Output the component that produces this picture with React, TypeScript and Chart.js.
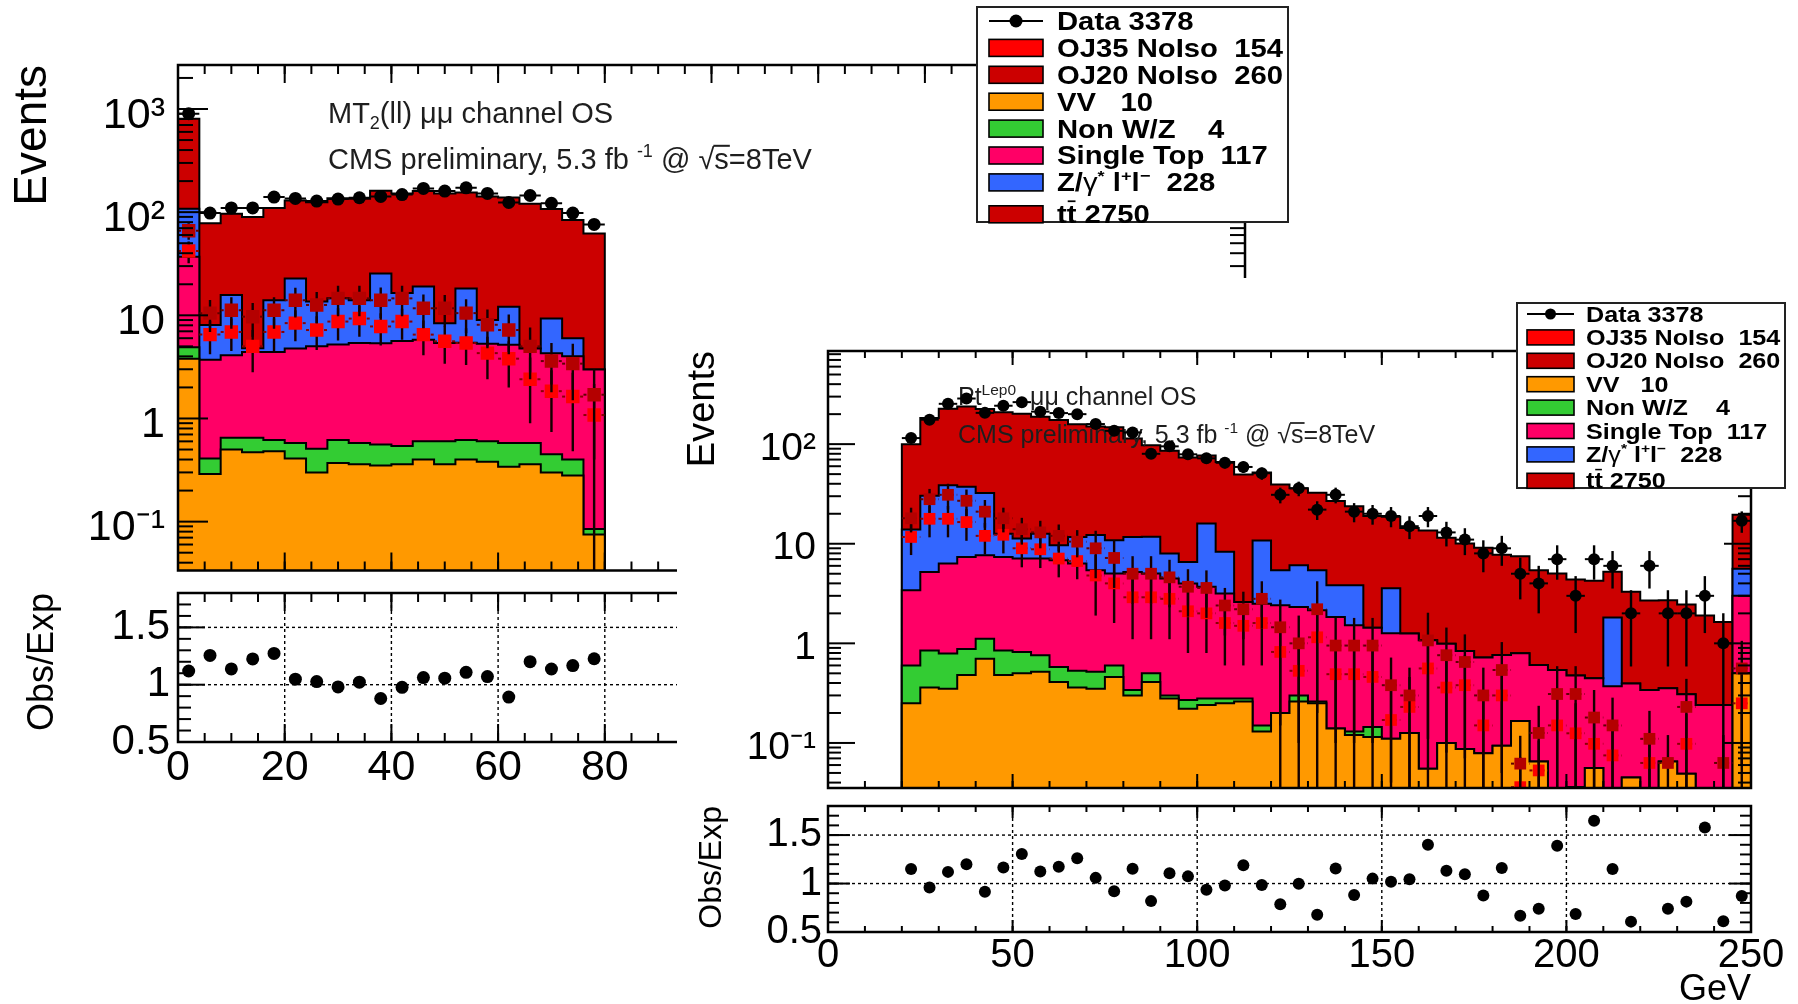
import React, { useEffect, useRef } from 'react';
import { Chart, registerables } from 'chart.js';

Chart.register(...registerables);

const FONT = "'Liberation Sans', Arial, Helvetica, sans-serif";
Chart.defaults.font.family = FONT;
Chart.defaults.color = '#000';

// ---------------- colours ----------------
const C_TT = '#cc0000';
const C_Z = '#3366ff';
const C_ST = '#ff0066';
const C_NWZ = '#33cc33';
const C_VV = '#ff9900';
const C_OJ35 = '#ff0000';
const C_OJ20 = '#b40000';

// ---------------- left panel : MT2(ll) ----------------
const L_BIN_LOW = 0;
const L_BIN_WIDTH = 4;
const L_DATA = [900, 98, 110, 110, 140, 136, 128, 134, 138, 142, 148, 170, 160, 172, 152, 124, 145, 122, 98, 76];
const L_VV = [3.8, 0.29, 0.5, 0.47, 0.48, 0.41, 0.3, 0.37, 0.36, 0.35, 0.36, 0.4, 0.36, 0.4, 0.38, 0.34, 0.36, 0.3, 0.28, 0.075];
const L_NONWZ = [1.1, 0.12, 0.15, 0.18, 0.14, 0.17, 0.21, 0.25, 0.22, 0.21, 0.18, 0.2, 0.24, 0.22, 0.22, 0.24, 0.22, 0.15, 0.12, 0.01];
const L_SINGLETOP = [32, 3.3, 3.45, 3.75, 3.8, 4.2, 4.5, 4.6, 4.8, 4.8, 5.1, 5.2, 4.8, 4.8, 4.7, 4.6, 4.2, 3.85, 3.6, 2.9];
const L_ZGAMMA = [71, 4.35, 11.6, 0.4, 9.6, 18, 8.6, 9.4, 8.6, 20.1, 10.8, 13.2, 3.0, 12.8, 3.7, 6.9, 0, 5.0, 2.0, 0];
const L_TTBAR = [696, 70, 81, 85, 96, 107, 111, 122, 121, 136, 135, 141, 143, 137, 133, 127, 116, 98, 78, 59];
const L_OJ20 = [66, 10.5, 11.2, 9.7, 11.2, 14, 12.6, 14.6, 14.6, 14, 14.6, 11.7, 11.7, 10.5, 8.1, 7.2, 5.0, 3.6, 3.4, 1.7];
const L_OJ20_ERR = [12, 3.6, 3.8, 3.5, 3.8, 4.5, 4.2, 4.8, 4.8, 4.6, 4.8, 4.2, 4.0, 3.8, 3.3, 3.0, 2.6, 1.8, 1.9, 1.3];
const L_OJ35 = [42, 6.5, 6.9, 5.0, 6.9, 8.4, 7.2, 8.7, 9.3, 7.8, 8.7, 6.5, 5.6, 5.4, 4.3, 3.8, 2.4, 1.84, 1.63, 1.08];
const L_OJ35_ERR = [10, 2.3, 2.4, 2.2, 2.4, 2.8, 2.6, 3.0, 3.1, 2.7, 2.9, 2.4, 2.2, 2.1, 1.9, 1.8, 1.5, 1.1, 1.15, 1.08];

// ---------------- right panel : Pt Lep0 ----------------
const R_BIN_LOW = 20;
const R_BIN_WIDTH = 5;
const R_DATA = [115, 176, 254, 287, 206, 243, 264, 212, 205, 200, 159, 136, 131, 80, 95, 79, 72, 65, 59, 51, 31, 36, 22, 31, 21, 20, 19, 15, 19, 13, 11, 8, 9, 5, 4, 7, 3, 7, 6, 2, 6, 2, 2, 3, 1, 17];
const R_VV = [0.25, 0.36, 0.35, 0.48, 0.7, 0.48, 0.5, 0.52, 0.41, 0.36, 0.35, 0.46, 0.3, 0.41, 0.28, 0.22, 0.24, 0.25, 0.26, 0.13, 0.2, 0.26, 0.25, 0.14, 0.12, 0.115, 0.11, 0.126, 0.055, 0.1, 0.087, 0.079, 0.094, 0.166, 0.065, 0, 0.036, 0.056, 0, 0.045, 0, 0.065, 0.049, 0, 0, 0.5];
const R_NONWZ = [0.35, 0.49, 0.44, 0.4, 0.41, 0.37, 0.32, 0.24, 0.17, 0.17, 0.17, 0.14, 0.04, 0.09, 0.02, 0.05, 0.04, 0.03, 0.02, 0.02, 0, 0.04, 0.01, 0, 0.01, 0.03, 0, 0, 0, 0, 0, 0, 0, 0, 0, 0, 0, 0, 0, 0, 0, 0, 0, 0, 0, 0];
const R_SINGLETOP = [2.81, 4.36, 5.53, 6.5, 6.55, 6.53, 6.28, 6.34, 6.25, 5.79, 4.9, 4.42, 4.86, 4.53, 4.17, 3.71, 3.41, 2.88, 2.32, 2.35, 2.21, 2.02, 1.89, 1.7, 1.39, 1.29, 1.15, 1.13, 1.02, 0.89, 0.75, 0.64, 0.67, 0.63, 0.54, 0.54, 0.44, 0.39, 0.37, 0.35, 0.34, 0.29, 0.26, 0.24, 0.24, 2.5];
const R_ZGAMMA = [10.5, 25.1, 32.4, 29.9, 24.7, 5.2, 4.2, 5.5, 2.83, 5.38, 6.8, 5.8, 6.5, 6.7, 3.5, 2.58, 12.3, 5.14, 0, 8.3, 3.0, 3.76, 3.27, 1.99, 2.31, 0, 2.31, 0, 0, 0, 0, 0, 0, 0, 0, 0, 0, 0, 1.45, 0, 0, 0, 0, 0, 0, 2.6];
const R_TTBAR = [86, 153, 188, 202, 193, 196, 191, 176, 165, 147, 138, 137, 102, 86, 78, 67, 61, 58, 47, 41, 34, 30, 27, 23, 20, 17.6, 15.1, 13.1, 12.5, 10.5, 9.2, 8.4, 7.0, 6.7, 4.8, 4.5, 3.9, 3.8, 3.4, 2.9, 2.35, 2.35, 2.15, 1.66, 1.4, 13.9];
const R_OJ20 = [18, 28, 31, 27, 21, 18, 14, 13, 12, 10.5, 9, 7.2, 5.0, 5.0, 4.6, 3.7, 3.6, 2.4, 2.2, 2.8, 1.45, 1.0, 2.2, 0.95, 0.95, 0.95, 0.38, 0.3, 1.07, 0.76, 0.65, 0.3, 0.54, 0.062, 0.126, 0.31, 0.31, 0.18, 0.15, 0, 0.11, 0.063, 0.23, 0, 0.063, 0.56];
const R_OJ20_ERR = [5, 7.5, 9, 8, 6.5, 5, 4.2, 4, 3.6, 3.2, 4.5, 3.6, 2.5, 2.5, 2.3, 1.85, 1.8, 1.2, 1.1, 1.4, 1.3, 0.9, 2.0, 0.85, 0.85, 0.85, 0.34, 0.27, 0.96, 0.68, 0.58, 0.27, 0.49, 0.056, 0.11, 0.28, 0.28, 0.16, 0.135, 0, 0.1, 0.057, 0.21, 0, 0.057, 0.5];
const R_OJ35 = [11.7, 17.8, 17.8, 16.5, 12, 12.3, 9, 8.8, 7.1, 6.7, 4.8, 4.0, 2.9, 2.9, 2.8, 2.1, 2.0, 1.6, 1.5, 1.6, 0.82, 0.53, 1.15, 0.49, 0.49, 0.46, 0.17, 0.23, 0.56, 0.36, 0.38, 0.15, 0.3, 0.036, 0.053, 0.15, 0.125, 0.098, 0.075, 0, 0.063, 0, 0.098, 0, 0, 0.25];
const R_OJ35_ERR = [4, 6.2, 6.2, 5.8, 4.2, 4.3, 3.2, 3.1, 2.5, 2.3, 2.9, 2.4, 1.8, 1.8, 1.7, 1.3, 1.2, 1.0, 0.9, 1.0, 0.82, 0.53, 1.15, 0.49, 0.49, 0.46, 0.17, 0.23, 0.56, 0.36, 0.38, 0.15, 0.3, 0.036, 0.053, 0.15, 0.125, 0.098, 0.075, 0, 0.063, 0, 0.098, 0, 0, 0.25];

// ---------------- axes ----------------
const L_X_TICKS = [0, 20, 40, 60, 80, 100, 120, 140, 160, 180, 200];
const R_X_TICKS = [0, 50, 100, 150, 200, 250];
const L_Y_TICKS = [0.1, 1, 10, 100, 1000];
const R_Y_TICKS = [0.1, 1, 10, 100];
const RATIO_TICKS = [0.5, 1, 1.5];
const LOG_LABELS: Record<string, string> = { '0.1': '10\u207B\u00B9', '1': '1', '10': '10', '100': '10\u00B2', '1000': '10\u00B3' };

// ---------------- texts ----------------
type Seg = { t: string; sup?: boolean; sub?: boolean; bar?: boolean; over?: boolean; weight?: string };
const L_TITLE: Seg[] = [{ t: 'MT' }, { t: '2', sub: true }, { t: '(ll) \u03BC\u03BC channel OS' }];
const R_TITLE: Seg[] = [{ t: 'Pt' }, { t: 'Lep0', sup: true }, { t: '  \u03BC\u03BC channel OS' }];
const CMS_LABEL: Seg[] = [{ t: 'CMS preliminary, 5.3 fb ' }, { t: '-1', sup: true }, { t: ' @ ' }, { t: '\u221A' }, { t: 's', over: true }, { t: '=8TeV' }];

const LEGEND_ITEMS: { kind: string; color: string; segs: Seg[] }[] = [
  { kind: 'data', color: '#000', segs: [{ t: 'Data 3378' }] },
  { kind: 'box', color: C_OJ35, segs: [{ t: 'OJ35 NoIso  154' }] },
  { kind: 'box', color: '#cc0000', segs: [{ t: 'OJ20 NoIso  260' }] },
  { kind: 'box', color: C_VV, segs: [{ t: 'VV   10' }] },
  { kind: 'box', color: C_NWZ, segs: [{ t: 'Non W/Z    4' }] },
  { kind: 'box', color: C_ST, segs: [{ t: 'Single Top  117' }] },
  { kind: 'box', color: C_Z, segs: [{ t: 'Z/' }, { t: '\u03B3', weight: 'normal' }, { t: '*', sup: true }, { t: ' l' }, { t: '+', sup: true }, { t: 'l' }, { t: '\u2212', sup: true }, { t: '  228' }] },
  { kind: 'box', color: C_TT, segs: [{ t: 't' }, { t: 't', bar: true }, { t: ' 2750' }] },
];

const FLOOR = 1e-4;

// ---------------- helpers ----------------
function cumulative(parts: number[][]): number[][] {
  const out: number[][] = [];
  let run = parts[0].map(() => 0);
  for (const p of parts) {
    run = run.map((v, i) => v + p[i]);
    out.push(run);
  }
  return out;
}

function histPoints(x0: number, w: number, vals: number[]) {
  const n = vals.length;
  const pts: { x: number; y: number }[] = [{ x: x0, y: FLOOR }];
  vals.forEach((v, i) => pts.push({ x: x0 + i * w, y: Math.max(v, FLOOR) }));
  pts.push({ x: x0 + n * w, y: Math.max(vals[n - 1], FLOOR) });
  pts.push({ x: x0 + n * w, y: FLOOR });
  return pts;
}

function logMinor(min: number, max: number) {
  const out: number[] = [];
  for (let e = -3; e <= 4; e++) for (let m = 2; m <= 9; m++) {
    const v = m * Math.pow(10, e);
    if (v > min && v < max) out.push(v);
  }
  return out;
}
function linSteps(min: number, max: number, step: number) {
  const out: number[] = [];
  for (let v = min; v <= max + 1e-9; v += step) out.push(+v.toFixed(6));
  return out;
}

function drawRich(ctx: CanvasRenderingContext2D, x: number, y: number, segs: Seg[], size: number, weight: string) {
  let cx = x;
  ctx.textBaseline = 'alphabetic';
  ctx.textAlign = 'left';
  for (const s of segs) {
    const small = s.sup || s.sub;
    const sz = small ? size * 0.62 : size;
    ctx.font = `${s.weight || weight} ${sz}px ${FONT}`;
    const dy = s.sup ? -size * 0.42 : s.sub ? size * 0.2 : 0;
    ctx.fillText(s.t, cx, y + dy);
    const w = ctx.measureText(s.t).width;
    if (s.bar || s.over) {
      const ly = y + dy - sz * (s.bar ? 0.88 : 0.8);
      ctx.save();
      ctx.strokeStyle = ctx.fillStyle as string;
      ctx.lineWidth = Math.max(1.5, sz * 0.07);
      ctx.beginPath();
      ctx.moveTo(cx + (s.over ? -1 : w * 0.1), ly);
      ctx.lineTo(cx + (s.over ? w + 1 : w * 0.9), ly);
      ctx.stroke();
      ctx.restore();
    }
    cx += w;
  }
}

type LegendGeom = { x0: number; y0: number; x1: number; y1: number; row0: number; dy: number; lastShift: number; sw0: number; sw1: number; swH: number; tx: number; size: number; sx: number; mr: number };

function drawLegend(ctx: CanvasRenderingContext2D, g: LegendGeom) {
  ctx.save();
  ctx.fillStyle = '#fff';
  ctx.fillRect(g.x0, g.y0, g.x1 - g.x0, g.y1 - g.y0);
  ctx.strokeStyle = '#222';
  ctx.lineWidth = 2;
  ctx.strokeRect(g.x0, g.y0, g.x1 - g.x0, g.y1 - g.y0);
  LEGEND_ITEMS.forEach((e, i) => {
    const cy = g.row0 + i * g.dy + (i === LEGEND_ITEMS.length - 1 ? g.lastShift : 0);
    if (e.kind === 'data') {
      ctx.strokeStyle = '#000';
      ctx.lineWidth = 2;
      ctx.beginPath();
      ctx.moveTo(g.sw0, cy);
      ctx.lineTo(g.sw1, cy);
      ctx.stroke();
      ctx.fillStyle = '#000';
      ctx.beginPath();
      ctx.arc((g.sw0 + g.sw1) / 2, cy, g.mr, 0, Math.PI * 2);
      ctx.fill();
    } else {
      ctx.fillStyle = e.color;
      ctx.fillRect(g.sw0, cy - g.swH / 2, g.sw1 - g.sw0, g.swH);
      ctx.strokeStyle = '#000';
      ctx.lineWidth = 1.6;
      ctx.strokeRect(g.sw0, cy - g.swH / 2, g.sw1 - g.sw0, g.swH);
    }
    ctx.save();
    ctx.translate(g.tx, cy + 0.716 * g.size / 2);
    ctx.scale(g.sx, 1);
    ctx.fillStyle = '#000';
    ctx.strokeStyle = '#000';
    drawRich(ctx, 0, 0, e.segs, g.size, 'bold');
    ctx.restore();
  });
  ctx.restore();
}

type FrameSpec = {
  xMajor: number[]; xMinor: number[]; yMajor: number[]; yMinor: number[];
  xMajLen: number; xMinLen: number; yMajLen: number; yMinLen: number;
  gridX?: number[]; gridY?: number[]; frameW: number;
};

function framePlugin(spec: FrameSpec) {
  return {
    id: 'rootFrame',
    beforeDatasetsDraw(chart: any) {
      if (!spec.gridX && !spec.gridY) return;
      const { ctx, chartArea: a, scales } = chart;
      ctx.save();
      ctx.strokeStyle = '#000';
      ctx.lineWidth = 1.4;
      ctx.setLineDash([3, 3]);
      (spec.gridX || []).forEach((v) => {
        const p = scales.x.getPixelForValue(v);
        ctx.beginPath(); ctx.moveTo(p, a.top); ctx.lineTo(p, a.bottom); ctx.stroke();
      });
      (spec.gridY || []).forEach((v) => {
        const p = scales.y.getPixelForValue(v);
        ctx.beginPath(); ctx.moveTo(a.left, p); ctx.lineTo(a.right, p); ctx.stroke();
      });
      ctx.restore();
    },
    afterDatasetsDraw(chart: any) {
      const { ctx, chartArea: a, scales } = chart;
      ctx.save();
      ctx.strokeStyle = '#000';
      ctx.lineWidth = 2;
      const seg = (x1: number, y1: number, x2: number, y2: number) => {
        ctx.beginPath(); ctx.moveTo(x1, y1); ctx.lineTo(x2, y2); ctx.stroke();
      };
      const xt = (vals: number[], len: number) => vals.forEach((v) => {
        const p = scales.x.getPixelForValue(v);
        if (p < a.left - 0.5 || p > a.right + 0.5) return;
        seg(p, a.bottom, p, a.bottom - len);
        seg(p, a.top, p, a.top + len);
      });
      const yt = (vals: number[], len: number) => vals.forEach((v) => {
        const p = scales.y.getPixelForValue(v);
        if (p < a.top - 0.5 || p > a.bottom + 0.5) return;
        seg(a.left, p, a.left + len, p);
        seg(a.right, p, a.right - len, p);
      });
      xt(spec.xMinor, spec.xMinLen);
      xt(spec.xMajor, spec.xMajLen);
      yt(spec.yMinor, spec.yMinLen);
      yt(spec.yMajor, spec.yMajLen);
      ctx.lineWidth = spec.frameW;
      ctx.strokeRect(a.left, a.top, a.right - a.left, a.bottom - a.top);
      ctx.restore();
    },
  };
}

const errorBarPlugin = {
  id: 'errorBars',
  beforeDatasetDraw(chart: any, args: any) {
    const ds = chart.data.datasets[args.index];
    if (!ds.errs) return;
    const { ctx, chartArea: a } = chart;
    const xs = chart.scales.x;
    const ys = chart.scales.y;
    ctx.save();
    ctx.beginPath();
    ctx.rect(a.left, a.top, a.right - a.left, a.bottom - a.top);
    ctx.clip();
    ds.data.forEach((pt: any, i: number) => {
      if (pt.y == null) return;
      const e = ds.errs[i];
      const px = xs.getPixelForValue(pt.x);
      const py = ys.getPixelForValue(pt.y);
      if (ds.xerr) {
        ctx.setLineDash(ds.xDash || []);
        ctx.strokeStyle = ds.xColor || ds.errColor;
        ctx.lineWidth = 2;
        ctx.beginPath();
        ctx.moveTo(xs.getPixelForValue(pt.x - ds.xerr), py);
        ctx.lineTo(xs.getPixelForValue(pt.x + ds.xerr), py);
        ctx.stroke();
      }
      if (e > 0) {
        ctx.setLineDash([]);
        ctx.strokeStyle = ds.errColor;
        ctx.lineWidth = ds.errWidth;
        const lo = pt.y - e > 0 ? pt.y - e : FLOOR;
        ctx.beginPath();
        ctx.moveTo(px, ys.getPixelForValue(lo));
        ctx.lineTo(px, ys.getPixelForValue(pt.y + e));
        ctx.stroke();
      }
    });
    ctx.restore();
  },
};

function overlayPlugin(annot: (ctx: CanvasRenderingContext2D) => void, legend: LegendGeom) {
  return {
    id: 'overlay',
    beforeDatasetDraw(chart: any, args: any) {
      if (chart.data.datasets[args.index].isData) {
        chart.ctx.save();
        annot(chart.ctx);
        chart.ctx.restore();
      }
    },
    afterDraw(chart: any) {
      drawLegend(chart.ctx, legend);
    },
  };
}

const fixWidth = (w: number) => (s: any) => {
  s.width = w;
  s.paddingTop = 0;
  s.paddingBottom = 0;
  s.paddingLeft = 0;
  s.paddingRight = 0;
};
const fixHeight = (h: number) => (s: any) => {
  s.height = h;
  s.paddingTop = 0;
  s.paddingBottom = 0;
  s.paddingLeft = 0;
  s.paddingRight = 0;
};

// ---------------- configs ----------------
type MainSpec = {
  x0: number; w: number; xMin: number; xMax: number; yMin: number; yMax: number;
  parts: number[][]; data: number[]; oj20: number[]; oj20e: number[]; oj35: number[]; oj35e: number[];
  yTicks: number[]; xMajor: number[]; xMinorStep: number;
  axisW: number; padding: any; tickFont: number; tickPad: number; labelOffset: number; titleFont: number; titlePad: number;
  len: number[]; dataR: number; ojR: number;
  annot: (ctx: CanvasRenderingContext2D) => void; legend: LegendGeom;
};

function makeMainConfig(p: MainSpec): any {
  const cums = cumulative(p.parts);
  const colors = [C_VV, C_NWZ, C_ST, C_Z, C_TT];
  const centers = p.data.map((_, i) => p.x0 + (i + 0.5) * p.w);
  const hists = cums.map((c, j) => ({
    type: 'line',
    data: histPoints(p.x0, p.w, c),
    stepped: 'before',
    fill: 'start',
    backgroundColor: colors[j],
    borderColor: '#000',
    borderWidth: 2,
    pointRadius: 0,
    pointHitRadius: 0,
    order: 6 + j,
  }));
  const markers = (vals: number[], errs: number[], color: string, style: string, r: number, order: number, extra: any) => ({
    type: 'line',
    showLine: false,
    data: vals.map((v, i) => ({ x: centers[i], y: v > 0 ? v : null })),
    pointStyle: style,
    pointRadius: r,
    pointHoverRadius: r,
    pointBackgroundColor: color,
    pointBorderColor: color,
    pointBorderWidth: 0,
    order,
    errs,
    ...extra,
  });
  const datasets = [
    ...hists,
    markers(p.oj35, p.oj35e, C_OJ35, 'rect', p.ojR, 3, { errColor: '#140000', errWidth: 2.4, xerr: p.w / 2, xDash: [3, 3], xColor: '#8a0000' }),
    markers(p.oj20, p.oj20e, C_OJ20, 'rect', p.ojR, 2, { errColor: '#140000', errWidth: 2.4, xerr: p.w / 2, xDash: [3, 3], xColor: '#600000' }),
    markers(p.data, p.data.map((v) => Math.sqrt(v)), '#000', 'circle', p.dataR, 1, { errColor: '#000', errWidth: 2.4, xerr: p.w / 2, isData: true }),
  ];
  const frame = framePlugin({
    xMajor: p.xMajor,
    xMinor: linSteps(p.xMin, p.xMax, p.xMinorStep),
    yMajor: p.yTicks,
    yMinor: logMinor(p.yMin, p.yMax),
    xMajLen: p.len[0], xMinLen: p.len[1], yMajLen: p.len[2], yMinLen: p.len[3],
    frameW: 2.5,
  });
  return {
    type: 'line',
    data: { datasets },
    options: {
      responsive: false,
      animation: false,
      devicePixelRatio: 1,
      events: [],
      layout: { padding: p.padding },
      plugins: { legend: { display: false }, tooltip: { enabled: false } },
      scales: {
        x: { type: 'linear', min: p.xMin, max: p.xMax, display: false },
        y: {
          type: 'logarithmic',
          min: p.yMin,
          max: p.yMax,
          afterFit: fixWidth(p.axisW),
          afterBuildTicks: (s: any) => { s.ticks = p.yTicks.map((v) => ({ value: v })); },
          grid: { display: false, drawTicks: false },
          border: { display: false },
          ticks: {
            autoSkip: false,
            color: '#000',
            font: { size: p.tickFont },
            padding: p.tickPad,
            labelOffset: p.labelOffset,
            callback: (v: any) => LOG_LABELS[String(v)] ?? '',
          },
          title: { display: true, text: 'Events', align: 'end', color: '#000', font: { size: p.titleFont }, padding: { top: p.titlePad, bottom: 0 } },
        },
      },
    },
    plugins: [overlayPlugin(p.annot, p.legend), errorBarPlugin, frame],
  };
}

type RatioSpec = {
  x0: number; w: number; xMin: number; xMax: number; parts: number[][]; data: number[];
  xTicks: number[]; xMinorStep: number; gridX: number[];
  axisW: number; xAxisH: number; padding: any; xFont: number; yFont: number; yPad: number; xPad: number;
  titleFont: number; titlePad: number; len: number[]; r: number; xTitle: boolean;
};

function makeRatioConfig(p: RatioSpec): any {
  const total = cumulative(p.parts)[p.parts.length - 1];
  const ratio = p.data.map((d, i) => ({ x: p.x0 + (i + 0.5) * p.w, y: total[i] > 0 ? d / total[i] : null }));
  const frame = framePlugin({
    xMajor: p.xTicks,
    xMinor: linSteps(p.xMin, p.xMax, p.xMinorStep),
    yMajor: RATIO_TICKS,
    yMinor: linSteps(0.5, 1.8, 0.1),
    xMajLen: p.len[0], xMinLen: p.len[1], yMajLen: p.len[2], yMinLen: p.len[3],
    gridX: p.gridX,
    gridY: [1, 1.5],
    frameW: 2.5,
  });
  return {
    type: 'line',
    data: {
      datasets: [{
        type: 'line', showLine: false, data: ratio,
        pointStyle: 'circle', pointRadius: p.r, pointHoverRadius: p.r,
        pointBackgroundColor: '#000', pointBorderColor: '#000', pointBorderWidth: 0,
      }],
    },
    options: {
      responsive: false,
      animation: false,
      devicePixelRatio: 1,
      events: [],
      layout: { padding: p.padding },
      plugins: { legend: { display: false }, tooltip: { enabled: false } },
      scales: {
        x: {
          type: 'linear', min: p.xMin, max: p.xMax,
          afterFit: fixHeight(p.xAxisH),
          afterBuildTicks: (s: any) => { s.ticks = p.xTicks.map((v) => ({ value: v })); },
          grid: { display: false, drawTicks: false },
          border: { display: false },
          ticks: { autoSkip: false, maxRotation: 0, color: '#000', font: { size: p.xFont }, padding: p.xPad, callback: (v: any) => String(v) },
          title: p.xTitle
            ? { display: true, text: 'GeV', align: 'end', color: '#000', font: { size: 36, lineHeight: 0.78 }, padding: { top: 0, bottom: 0 } }
            : { display: false },
        },
        y: {
          type: 'linear', min: 0.5, max: 1.8,
          afterFit: fixWidth(p.axisW),
          afterBuildTicks: (s: any) => { s.ticks = RATIO_TICKS.map((v) => ({ value: v })); },
          grid: { display: false, drawTicks: false },
          border: { display: false },
          ticks: { autoSkip: false, color: '#000', font: { size: p.yFont }, padding: p.yPad, callback: (v: any) => String(v) },
          title: { display: true, text: 'Obs/Exp', align: 'end', color: '#000', font: { size: p.titleFont }, padding: { top: p.titlePad, bottom: 0 } },
        },
      },
    },
    plugins: [frame],
  };
}

const L_PARTS = [L_VV, L_NONWZ, L_SINGLETOP, L_ZGAMMA, L_TTBAR];
const R_PARTS = [R_VV, R_NONWZ, R_SINGLETOP, R_ZGAMMA, R_TTBAR];

const leftMain = () => makeMainConfig({
  x0: L_BIN_LOW, w: L_BIN_WIDTH, xMin: 0, xMax: 200, yMin: 0.0336, yMax: 2670,
  parts: L_PARTS, data: L_DATA, oj20: L_OJ20, oj20e: L_OJ20_ERR, oj35: L_OJ35, oj35e: L_OJ35_ERR,
  yTicks: L_Y_TICKS, xMajor: L_X_TICKS, xMinorStep: 5,
  axisW: 178, padding: { left: 0, right: 55, top: 65, bottom: 9 },
  tickFont: 43, tickPad: 13, labelOffset: 7, titleFont: 46, titlePad: 6,
  len: [18, 9, 30, 15], dataR: 6.5, ojR: 9.5,
  annot: (ctx) => {
    ctx.fillStyle = '#1e1e1e';
    drawRich(ctx, 328, 123, L_TITLE, 29, 'normal');
    drawRich(ctx, 328, 169, CMS_LABEL, 29, 'normal');
  },
  legend: { x0: 977, y0: 7, x1: 1288, y1: 222, row0: 21, dy: 26.9, lastShift: 5, sw0: 989, sw1: 1043, swH: 17, tx: 1057, size: 25, sx: 1.17, mr: 6.5 },
});

const leftRatio = () => makeRatioConfig({
  x0: L_BIN_LOW, w: L_BIN_WIDTH, xMin: 0, xMax: 200, parts: L_PARTS, data: L_DATA,
  xTicks: L_X_TICKS, xMinorStep: 5, gridX: [20, 40, 60, 80, 100, 120, 140, 160, 180],
  axisW: 178, xAxisH: 68, padding: { left: 0, right: 55, top: 13, bottom: 0 },
  xFont: 43, yFont: 42, yPad: 8, xPad: 0, titleFont: 36, titlePad: 21,
  len: [18, 9, 27, 13], r: 6.5, xTitle: false,
});

const rightMain = () => makeMainConfig({
  x0: R_BIN_LOW, w: R_BIN_WIDTH, xMin: 0, xMax: 250, yMin: 0.0353, yMax: 861,
  parts: R_PARTS, data: R_DATA, oj20: R_OJ20, oj20e: R_OJ20_ERR, oj35: R_OJ35, oj35e: R_OJ35_ERR,
  yTicks: R_Y_TICKS, xMajor: R_X_TICKS, xMinorStep: 10,
  axisW: 151, padding: { left: 0, right: 47, top: 73, bottom: 20 },
  tickFont: 39, tickPad: 12, labelOffset: 5, titleFont: 38, titlePad: 4,
  len: [14, 7, 27, 13], dataR: 6, ojR: 8.3,
  annot: (ctx) => {
    ctx.fillStyle = '#1e1e1e';
    drawRich(ctx, 281, 127, R_TITLE, 25, 'normal');
    drawRich(ctx, 281, 165, CMS_LABEL, 25, 'normal');
  },
  legend: { x0: 840, y0: 25, x1: 1108, y1: 210, row0: 36, dy: 23.4, lastShift: 3, sw0: 850, sw1: 897, swH: 15, tx: 909, size: 21.5, sx: 1.17, mr: 5.5 },
});

const rightRatio = () => makeRatioConfig({
  x0: R_BIN_LOW, w: R_BIN_WIDTH, xMin: 0, xMax: 250, parts: R_PARTS, data: R_DATA,
  xTicks: R_X_TICKS, xMinorStep: 10, gridX: [50, 100, 150, 200],
  axisW: 151, xAxisH: 72, padding: { left: 0, right: 47, top: 11, bottom: 0 },
  xFont: 40, yFont: 40, yPad: 6, xPad: 0, titleFont: 32, titlePad: 16,
  len: [12, 6, 22, 11], r: 6, xTitle: true,
});

function ChartBox({ make, left, top, width, height }: any) {
  const ref = useRef<HTMLCanvasElement | null>(null);
  useEffect(() => {
    const chart = new Chart(ref.current as HTMLCanvasElement, make());
    return () => chart.destroy();
  }, []);
  return (
    <canvas
      ref={ref}
      width={width}
      height={height}
      style={{ position: 'absolute', left, top, width, height, display: 'block' }}
    />
  );
}

export default function App() {
  return (
    <div style={{ position: 'absolute', left: 0, top: 0, width: 1798, height: 1004, background: '#fff', overflow: 'hidden', fontFamily: FONT }}>
      <ChartBox make={leftMain} left={0} top={0} width={1300} height={580} />
      <ChartBox make={leftRatio} left={0} top={580} width={1300} height={230} />
      <div style={{ position: 'absolute', left: 677, top: 278, width: 1121, height: 726, background: '#fff' }}>
        <ChartBox make={rightMain} left={0} top={0} width={1121} height={530} />
        <ChartBox make={rightRatio} left={0} top={517} width={1121} height={209} />
      </div>
    </div>
  );
}
